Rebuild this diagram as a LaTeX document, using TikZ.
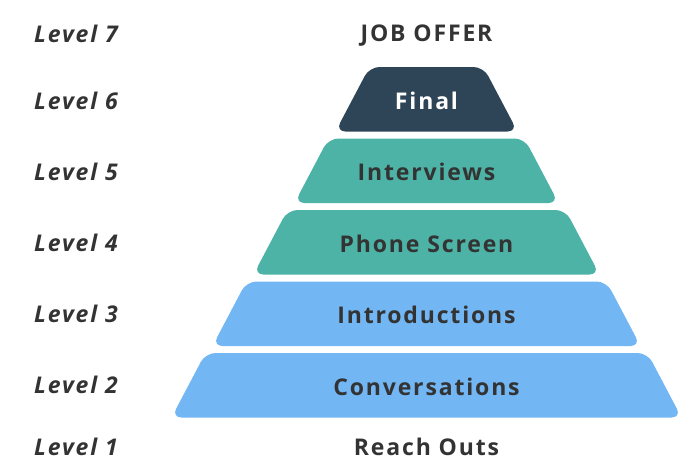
\documentclass[tikz,border=0pt]{standalone}
\usepackage{fontspec}
\setmainfont{Open Sans}[LetterSpace=8]
\usetikzlibrary{positioning}
\definecolor{navy}{HTML}{2E4558}
\definecolor{teal}{HTML}{4DB3A6}
\definecolor{sky}{HTML}{72B6F3}
\definecolor{ink}{HTML}{333333}
\begin{document}
\begin{tikzpicture}[x=1pt,y=-1pt,
  lvl/.style={font=\fontsize{23}{27}\selectfont\bfseries\itshape, text=ink, anchor=west, inner sep=0pt},
  lab/.style={font=\fontsize{23}{27}\selectfont\bfseries, text=ink, inner sep=0pt},
  tier/.style={rounded corners=10pt}]
\useasboundingbox (0,0) rectangle (699,469);
% tiers: center x 426.5, pitch 71.5, height 64.5, bottom halves step 41
\def\cx{426.5}
\fill[navy,tier] (\cx-91,131.5) -- (\cx-57,67) -- (\cx+57,67) -- (\cx+91,131.5) -- cycle;
\fill[teal,tier] (\cx-132,203) -- (\cx-98,138.5) -- (\cx+98,138.5) -- (\cx+132,203) -- cycle;
\fill[teal,tier] (\cx-173,274.5) -- (\cx-139,210) -- (\cx+139,210) -- (\cx+173,274.5) -- cycle;
\fill[sky,tier] (\cx-214,346) -- (\cx-180,281.5) -- (\cx+180,281.5) -- (\cx+214,346) -- cycle;
\fill[sky,tier] (\cx-255,417.5) -- (\cx-221,353) -- (\cx+221,353) -- (\cx+255,417.5) -- cycle;
% labels
\node[lab] (t7) at (\cx,36) {JOB OFFER};
\node[lab,text=white] (t6) at (\cx,100.5) {Final};
\node[lab] (t5) at (\cx,172) {Interviews};
\node[lab] (t4) at (\cx,243.5) {Phone Screen};
\node[lab] (t3) at (\cx,315) {Introductions};
\node[lab] (t2) at (\cx,386.5) {Conversations};
\node[lab] (t1) at (\cx,447) {Reach Outs};
\node[lvl] (l7) at (34,34) {Level 7};
\node[lvl] (l6) at (34,101) {Level 6};
\node[lvl] (l5) at (34,172) {Level 5};
\node[lvl] (l4) at (34,243) {Level 4};
\node[lvl] (l3) at (34,314) {Level 3};
\node[lvl] (l2) at (34,385) {Level 2};
\node[lvl] (l1) at (34,447) {Level 1};
\end{tikzpicture}
\end{document}
